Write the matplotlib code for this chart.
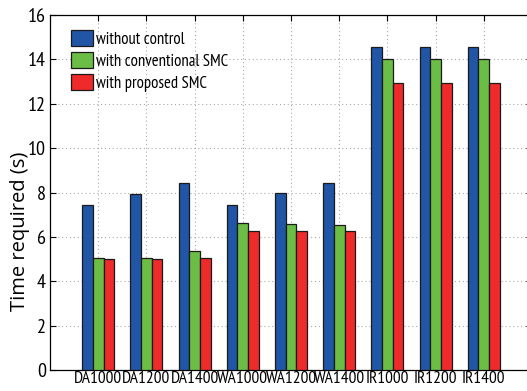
import numpy as np
import matplotlib
matplotlib.use('Agg')
from matplotlib import pyplot as plt

categories = ['DA1000', 'DA1200', 'DA1400', 'WA1000', 'WA1200', 'WA1400',
              'IR1000', 'IR1200', 'IR1400']
without_control = [7.44, 7.95, 8.43, 7.44, 7.96, 8.44, 14.57, 14.57, 14.55]
conventional_smc = [5.06, 5.06, 5.35, 6.61, 6.56, 6.52, 14.03, 14.03, 14.0]
proposed_smc = [4.99, 5.02, 5.05, 6.28, 6.28, 6.28, 12.95, 12.95, 12.95]
yticks = [0, 2, 4, 6, 8, 10, 12, 14, 16]

# condensed fonts, first installed one wins
narrow = ['PT Sans Narrow', 'Roboto Condensed', 'Archivo Narrow',
          'Liberation Sans Narrow', 'DejaVu Sans']
regular = ['Open Sans', 'PT Sans', 'DejaVu Sans']

fig = plt.figure(figsize=(5.27, 3.91), dpi=100)
# axes runs a bit past the right edge, like the cropped original
ax = fig.add_axes([50 / 527, 21 / 391, 482 / 527, 355 / 391])

x = np.arange(1, len(categories) + 1)
w = 0.22
ax.bar(x - w, without_control, w, color='#2155a6', edgecolor='#1a1a1a',
       linewidth=0.9, label='without control', zorder=3)
ax.bar(x, conventional_smc, w, color='#6cbd45', edgecolor='#1a1a1a',
       linewidth=0.9, label='with conventional SMC', zorder=3)
ax.bar(x + w, proposed_smc, w, color='#ee2a2a', edgecolor='#1a1a1a',
       linewidth=0.9, label='with proposed SMC', zorder=3)

ax.set_xlim(0, 10)
ax.set_ylim(0, 16)
ax.set_xticks(x)
ax.set_xticklabels(categories, family=narrow, fontsize=12.5)
ax.set_yticks(yticks)
ax.set_yticklabels([str(t) for t in yticks], family=narrow, fontsize=14.5)
ax.tick_params(direction='in', top=True, right=True, length=4, width=0.8, pad=3)
ax.tick_params(axis='x', pad=1)
ax.grid(True, linestyle=(0, (1, 2.5)), color='#aaaaaa', linewidth=0.8, zorder=0)
for s in ax.spines.values():
    s.set_linewidth(0.9)

# label sits a little below the middle in the original
ax.set_ylabel('Time required (s)', family=regular, fontsize=14.5)
ax.yaxis.set_label_coords(-0.042, 0.39)

ax.legend(loc='upper left', bbox_to_anchor=(0.022, 0.985), frameon=False,
          prop={'family': narrow, 'size': 12}, handlelength=1.35,
          handleheight=1.1, handletextpad=0.15, labelspacing=0.25,
          borderaxespad=0.2)

fig.savefig('out.png', dpi=100)
